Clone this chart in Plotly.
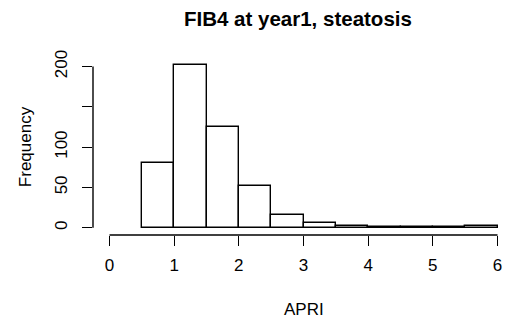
import plotly.graph_objects as go

# Histogram of FIB4 at year 1 (steatosis group), bins of width 0.5
bin_left = [0.5, 1.0, 1.5, 2.0, 2.5, 3.0, 3.5, 4.0, 4.5, 5.0, 5.5]
bin_width = 0.5
counts = [80, 202, 125, 52, 16, 6, 2, 1, 1, 1, 2]

x_ticks = [0, 1, 2, 3, 4, 5, 6]
y_ticks = [0, 50, 100, 150, 200]
y_tick_text = ["0", "50", "100", "", "200"]

title_text = "FIB4 at year1, steatosis"
x_title = "APRI"
y_title = "Frequency"

FONT = "Liberation Sans, Arial, sans-serif"
LW = 1.4
X_RANGE = [-0.2551, 6.0848]
Y_RANGE = [-9.06, 233.0]

centers = [b + bin_width / 2 for b in bin_left]

fig = go.Figure()
fig.add_trace(go.Bar(
    x=centers,
    y=counts,
    width=bin_width,
    marker=dict(color="white", line=dict(color="black", width=LW)),
    showlegend=False,
    hoverinfo="skip",
))

fig.update_layout(
    width=513,
    height=322,
    margin=dict(l=93, r=10, t=40, b=87, pad=0),
    paper_bgcolor="white",
    plot_bgcolor="white",
    font=dict(family=FONT, size=17, color="black"),
    bargap=0,
    xaxis=dict(
        range=X_RANGE,
        tickvals=x_ticks,
        ticktext=[str(v) for v in x_ticks],
        ticks="outside",
        ticklen=10,
        tickwidth=LW,
        tickcolor="black",
        showline=False,
        showgrid=False,
        zeroline=False,
        automargin=False,
        ticklabelstandoff=5,
    ),
    yaxis=dict(
        range=Y_RANGE,
        tickvals=y_ticks,
        ticktext=y_tick_text,
        tickangle=-90,
        ticks="outside",
        ticklen=10,
        tickwidth=LW,
        tickcolor="black",
        showline=False,
        showgrid=False,
        zeroline=False,
        automargin=False,
        ticklabelstandoff=8,
    ),
    shapes=[
        # x axis line spanning the tick range
        dict(type="line", xref="x", yref="paper",
             x0=min(x_ticks), x1=max(x_ticks), y0=0, y1=0,
             line=dict(color="black", width=LW)),
        # y axis line spanning the tick range
        dict(type="line", xref="paper", yref="y",
             x0=0, x1=0, y0=min(y_ticks), y1=max(y_ticks),
             line=dict(color="black", width=LW)),
    ],
    annotations=[
        dict(text="<b>" + title_text + "</b>", xref="paper", yref="paper",
             x=0.5, y=1, yshift=35, xanchor="center", yanchor="top",
             showarrow=False, font=dict(size=20.5, family=FONT)),
        dict(text=x_title, xref="x", yref="paper",
             x=3, y=0, yshift=-74,
             xanchor="center", yanchor="middle",
             showarrow=False, font=dict(size=17, family=FONT)),
        dict(text=y_title, xref="paper", yref="y",
             x=0, xshift=-68, y=100, textangle=-90,
             xanchor="center", yanchor="middle",
             showarrow=False, font=dict(size=17, family=FONT)),
    ],
)

fig.write_html("out.html")
